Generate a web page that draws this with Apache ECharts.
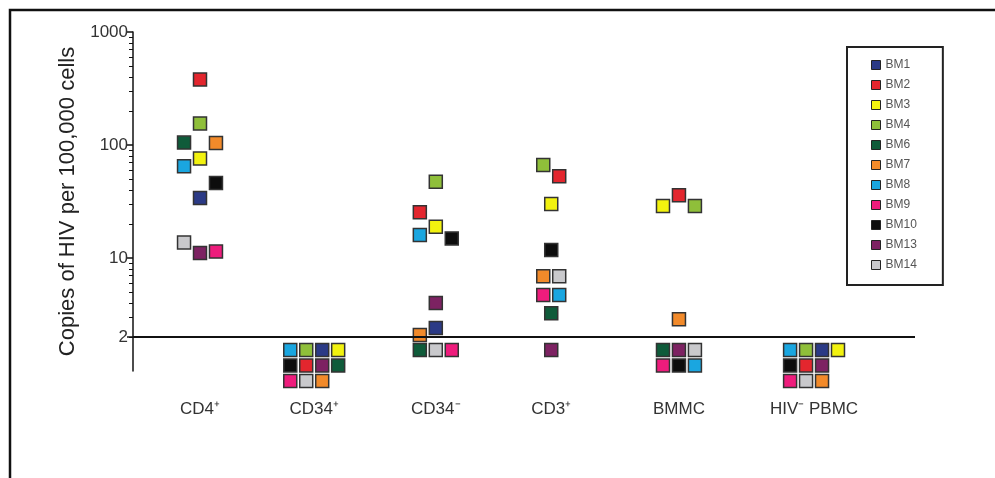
<!DOCTYPE html>
<html>
<head>
<meta charset="utf-8">
<script src="https://cdn.jsdelivr.net/npm/echarts@6/dist/echarts.min.js"></script>
<style>
  html, body { margin: 0; padding: 0; background: #fff; }
  #chart { width: 995px; height: 478px; }
</style>
</head>
<body>
<div id="chart"></div>
<script>
// Cell populations on the x axis
const categories = ['CD4⁺', 'CD34⁺', 'CD34⁻', 'CD3⁺', 'BMMC', 'HIV⁻ PBMC'];

// Samples and their marker colours
const samples = ['BM1', 'BM2', 'BM3', 'BM4', 'BM6', 'BM7', 'BM8', 'BM9', 'BM10', 'BM13', 'BM14'];
const sampleColors = ['#2b3a86', '#e3262e', '#f2f20f', '#8fbf3a', '#0f5b3a', '#f28a2a',
                      '#1aa6e0', '#ee1c7c', '#0d0d0d', '#7d2262', '#c9c9cc'];

// Detected copies of HIV per 100,000 cells
const cd4Names   = ['BM2', 'BM4', 'BM6', 'BM7', 'BM3', 'BM8', 'BM10', 'BM1', 'BM14', 'BM13', 'BM9'];
const cd4Values  = [380, 155, 105, 104, 76, 65, 46, 34, 13.7, 11.1, 11.4];

const cd34nNames  = ['BM4', 'BM2', 'BM3', 'BM8', 'BM10', 'BM13', 'BM1', 'BM7'];
const cd34nValues = [47.4, 25.4, 18.9, 16.0, 14.9, 4.0, 2.4, 2.08];

const cd3Names  = ['BM4', 'BM2', 'BM3', 'BM10', 'BM7', 'BM14', 'BM9', 'BM8', 'BM6'];
const cd3Values = [66.5, 53, 30, 11.8, 6.9, 6.9, 4.7, 4.7, 3.24];

const bmmcNames  = ['BM2', 'BM3', 'BM4', 'BM7'];
const bmmcValues = [36, 28.8, 28.8, 2.87];

// Samples below the detection limit (2 copies), in reading order; null leaves a gap
const cd4Undetected   = [];
const cd34pUndetected = ['BM8', 'BM4', 'BM1', 'BM3', 'BM10', 'BM2', 'BM13', 'BM6', 'BM9', 'BM14', 'BM7'];
const cd34nUndetected = ['BM6', 'BM14', 'BM9'];
const cd3Undetected   = ['BM13'];
const bmmcUndetected  = ['BM6', 'BM13', 'BM14', 'BM9', 'BM10', 'BM8'];
const pbmcUndetected  = ['BM8', 'BM4', 'BM1', 'BM3', 'BM10', 'BM2', 'BM13', null, 'BM9', 'BM14', 'BM7'];

// Y tick labels
const yTickLabels = [2, 10, 100, 1000];

// ---- layout (dot-plot arrangement) ----
const catCenters = [0, 0.93, 1.92, 2.86, 3.9, 5.0];
const colStep = 0.13;
const cd4Cols   = [0, 0, -1, 1, 0, -1, 1, 0, -1, 0, 1];
const cd34nCols = [0, -1, 0, -1, 1, 0, 0, -1];
const cd3Cols   = [-0.5, 0.5, 0, 0, -0.5, 0.5, -0.5, 0.5, 0];
const bmmcCols  = [0, -1, 1, 0];
const undetectedPerRow = [1, 4, 3, 1, 3, 4];

const groups = [
  { names: cd4Names,   values: cd4Values,   cols: cd4Cols,   und: cd4Undetected },
  { names: [],         values: [],          cols: [],        und: cd34pUndetected },
  { names: cd34nNames, values: cd34nValues, cols: cd34nCols, und: cd34nUndetected },
  { names: cd3Names,   values: cd3Values,   cols: cd3Cols,   und: cd3Undetected },
  { names: bmmcNames,  values: bmmcValues,  cols: bmmcCols,  und: bmmcUndetected },
  { names: [],         values: [],          cols: [],        und: pbmcUndetected }
];

const detected = {}, undetected = {};
samples.forEach(s => { detected[s] = []; undetected[s] = []; });
groups.forEach((g, ci) => {
  g.names.forEach((s, i) => {
    detected[s].push([catCenters[ci] + g.cols[i] * colStep, g.values[i]]);
  });
  const n = undetectedPerRow[ci];
  g.und.forEach((s, i) => {
    if (!s) return;
    const col = i % n, row = Math.floor(i / n);
    undetected[s].push([catCenters[ci] + (col - (n - 1) / 2) * colStep, row]);
  });
});

const markerStyle = (c) => ({ color: c, borderColor: '#333', borderWidth: 1.5, opacity: 1 });

const series = [];
samples.forEach((s, i) => {
  series.push({
    name: s, type: 'scatter', xAxisIndex: 0, yAxisIndex: 0,
    symbol: 'rect', symbolSize: 13, clip: false,
    itemStyle: markerStyle(sampleColors[i]),
    data: detected[s], z: 3
  });
  series.push({
    name: s, type: 'scatter', xAxisIndex: 0, yAxisIndex: 1,
    symbol: 'rect', symbolSize: 13, clip: false,
    itemStyle: markerStyle(sampleColors[i]),
    data: undetected[s], z: 3
  });
});
// Detection-limit line at 2 copies
series[0].markLine = {
  silent: true, symbol: 'none', animation: false,
  label: { show: false },
  lineStyle: { color: '#111', width: 2, type: 'solid' },
  data: [{ yAxis: 2 }]
};

const log10 = Math.log10;
const minorTicks = [];
[1, 10, 100].forEach(d => { for (let k = 2; k <= 9; k++) minorTicks.push(log10(k * d)); });

const font = 'Liberation Sans, Arial, Helvetica, sans-serif';

const chart = echarts.init(document.getElementById('chart'), null, { renderer: 'canvas' });
chart.setOption({
  animation: false,
  backgroundColor: '#fff',
  textStyle: { fontFamily: font },
  grid: [
    { left: 133, right: 80, top: 32, bottom: 81 },
    { left: 133, right: 80, top: 32, bottom: 107 }
  ],
  xAxis: [
    {
      type: 'value', gridIndex: 0, min: -0.5456, max: 5.822,
      axisLine: { show: false }, axisTick: { show: false }, splitLine: { show: false },
      axisLabel: {
        customValues: catCenters,
        margin: 4, fontSize: 17, color: '#333', fontFamily: font,
        formatter: v => {
          const i = catCenters.findIndex(c => Math.abs(c - v) < 1e-6);
          return i >= 0 ? categories[i] : '';
        }
      }
    },
    { type: 'value', gridIndex: 1, show: false, min: 0, max: 1 }
  ],
  yAxis: [
    { type: 'log', gridIndex: 0, min: 0.5888, max: 1000, show: false },
    { type: 'value', gridIndex: 0, min: -20.516, max: 3.032, inverse: true, show: false },
    {
      type: 'value', gridIndex: 1, min: 0, max: 3, position: 'left',
      name: 'Copies of HIV per 100,000 cells', nameLocation: 'middle', nameGap: 52,
      nameTextStyle: { fontSize: 22, color: '#222', fontFamily: font },
      axisLine: { show: true, lineStyle: { color: '#111', width: 1.5 } },
      axisTick: { show: true, length: 6, customValues: yTickLabels.map(log10), lineStyle: { color: '#111', width: 1.5 } },
      axisLabel: {
        customValues: yTickLabels.map(log10), margin: 5, fontSize: 17, color: '#333', fontFamily: font,
        formatter: v => String(Math.round(Math.pow(10, v)))
      },
      splitLine: { show: false }
    },
    {
      type: 'value', gridIndex: 1, min: 0, max: 3, position: 'left',
      axisLine: { show: false },
      axisTick: { show: true, length: 4, customValues: minorTicks, lineStyle: { color: '#111', width: 1 } },
      axisLabel: { show: false },
      splitLine: { show: false }
    }
  ],
  legend: {
    data: samples,
    orient: 'vertical', left: 847, top: 47,
    padding: [12, 26, 14, 24],
    itemGap: 8, itemWidth: 9, itemHeight: 9, itemTextGap: 7,
    icon: 'rect',
    itemStyle: { borderColor: '#222', borderWidth: 1 },
    borderColor: '#222', borderWidth: 2, backgroundColor: '#fff',
    textStyle: { fontSize: 12, color: '#555', fontFamily: font }
  },
  graphic: [{
    type: 'rect', silent: true,
    shape: { x: 10, y: 10, width: 1020, height: 520 },
    style: { fill: 'none', stroke: '#111', lineWidth: 2.5 }
  }],
  series: series
});
</script>
</body>
</html>
